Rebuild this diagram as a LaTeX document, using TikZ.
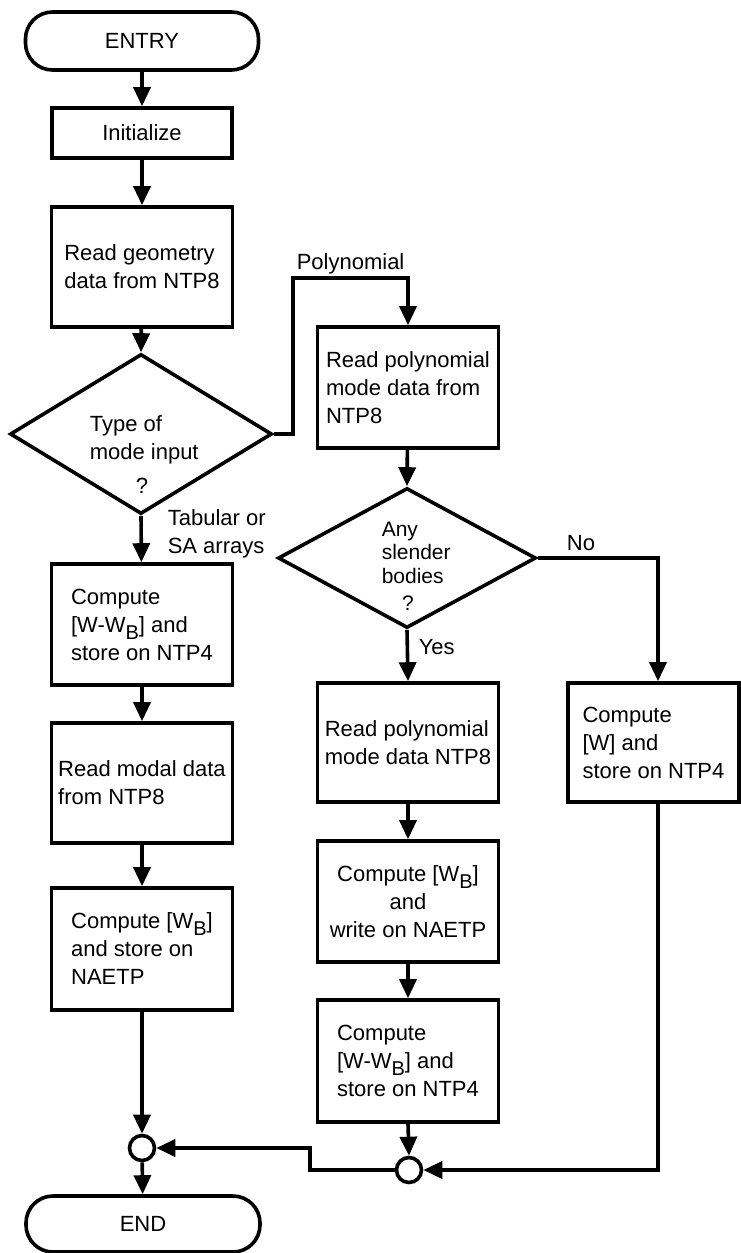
\documentclass[tikz,border=0pt]{standalone}
\usepackage{fontspec}
\setmainfont{Liberation Sans}
\usetikzlibrary{shapes.geometric,arrows.meta,calc}
\newcommand{\subB}{\raisebox{-0.6ex}{\fontsize{20}{20}\selectfont B}}
\begin{document}
\begin{tikzpicture}[x=1pt,y=-1pt,line width=3.6pt,
  every node/.style={font=\fontsize{22}{28}\selectfont},
  stepbox/.style={draw,line width=3.6pt,inner sep=0pt,align=left},
  pill/.style={draw,line width=3.6pt,rounded corners=27pt,inner sep=0pt},
  decision/.style={draw,diamond,line width=3.6pt,inner sep=0pt},
  joint/.style={draw,circle,line width=3.6pt,minimum size=25pt,inner sep=0pt},
  lbl/.style={inner sep=0pt,align=left},
  arr/.style={-{Triangle[length=19pt,width=17pt]}}]
\useasboundingbox (0,0) rectangle (741,1253);

% left column
\node[pill,minimum width=233pt,minimum height=58pt] (entry) at (142,41) {ENTRY};
\node[stepbox,minimum width=180pt,minimum height=50pt] (init) at (142,133) {Initialize};
\node[stepbox,minimum width=181pt,minimum height=120pt] (geom) at (142,267) {Read geometry\\data from NTP8};
\node[decision,minimum width=262pt,minimum height=160pt] (d1) at (141,434) {};
\node[lbl,anchor=north west] (d1t) at (88,414) {Type of\\mode input};
\node[lbl] (d1q) at (142,486) {?};
\node[stepbox,minimum width=181pt,minimum height=121pt] (cwwb) at (142,624.5) {Compute\\{[W-W\subB]} and\\store on NTP4};
\node[stepbox,minimum width=181pt,minimum height=120pt] (modal) at (142,783) {Read modal data\\from NTP8};
\node[stepbox,minimum width=181pt,minimum height=122pt] (cwb) at (142,949) {Compute [W\subB]\\and store on\\NAETP};
\node[joint] (c1) at (142,1148) {};
\node[pill,minimum width=234pt,minimum height=56pt] (end) at (143,1224) {END};

% middle column
\node[stepbox,minimum width=181pt,minimum height=121pt] (poly) at (408,387.5) {Read polynomial\\mode data from\\NTP8};
\node[decision,minimum width=258pt,minimum height=140pt] (d2) at (407,558) {};
\node[lbl,anchor=north west,font=\fontsize{21}{23.5}\selectfont] (d2t) at (380,520) {Any\\slender\\bodies};
\node[lbl,font=\fontsize{21}{23.5}\selectfont] (d2q) at (408,603) {?};
\node[stepbox,minimum width=181pt,minimum height=119pt] (rpoly) at (408,742.5) {Read polynomial\\mode data NTP8};
\node[stepbox,align=center,minimum width=181pt,minimum height=121pt] (cwb2) at (408,901.5) {Compute [W\subB]\\and\\write on NAETP};
\node[stepbox,minimum width=181pt,minimum height=122pt] (cwwb2) at (408,1061) {Compute\\{[W-W\subB]} and\\store on NTP4};
\node[joint] (c2) at (409,1170) {};

% right column
\node[stepbox,minimum width=171pt,minimum height=119pt] (cw) at (653.5,742.5) {Compute\\{[W]} and\\store on NTP4};

% labels
\node[lbl,anchor=base west] (lpoly) at (295,269) {Polynomial};
\node[lbl,anchor=north west] (ltab) at (166,508) {Tabular or\\SA arrays};
\node[lbl] (lno) at (581,543) {No};
\node[lbl,anchor=west] (lyes) at (417,647) {Yes};

\coordinate (pj) at (293,278);
\coordinate (mj) at (310,1148);

% connectors
\draw[arr] (entry) -- (init);
\draw[arr] (init) -- (geom);
\draw[arr] (geom) -- (d1.north);
\draw[arr] (d1.south) -- (cwwb);
\draw[arr] (cwwb) -- (modal);
\draw[arr] (modal) -- (cwb);
\draw[arr] (cwb) -- (c1);
\draw[arr] (c1) -- (end);
\draw[arr] (d1.east) -| (pj) -| (poly.north);
\draw[arr] (poly) -- (d2.north);
\draw[arr] (d2.south) -- (rpoly.north);
\draw[arr] (rpoly) -- (cwb2);
\draw[arr] (cwb2) -- (cwwb2);
\draw[arr] (cwwb2.south) -- (c2.north);
\draw[arr] (d2.east) -| ([xshift=4.5pt]cw.north);
\draw[arr] ([xshift=4.5pt]cw.south) |- (c2.east);
\draw[arr] (c2.west) -| (mj) -- (c1.east);
\end{tikzpicture}
\end{document}
